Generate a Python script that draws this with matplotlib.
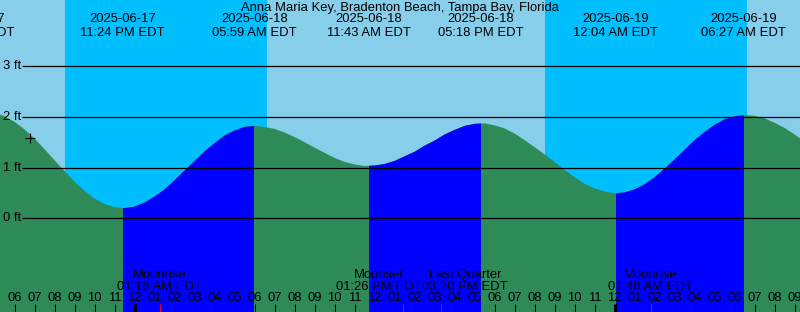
import numpy as np
import pandas as pd
import matplotlib
matplotlib.use('Agg')
import matplotlib.pyplot as plt
from matplotlib.patches import Rectangle
from matplotlib.transforms import blended_transform_factory

plt.rcParams['font.family'] = ['Liberation Sans', 'DejaVu Sans']

title = 'Anna Maria Key, Bradenton Beach, Tampa Bay, Florida'
ref_time = pd.Timestamp('2025-06-18 00:00')

# tide extremes
tide_times = ['2025-06-17 15:50', '2025-06-17 23:24', '2025-06-18 05:59', '2025-06-18 11:43',
              '2025-06-18 17:18', '2025-06-19 00:04', '2025-06-19 06:27']
tide_kinds = ['high', 'low', 'high', 'low', 'high', 'low', 'high']

# half-hourly water level (ft), starting 2025-06-17 17:00
curve_start = '2025-06-17 17:00'
curve_step_hours = 0.5
curve_heights = [2.08, 2.01, 1.90, 1.75, 1.57, 1.36, 1.14, 0.93, 0.72, 0.54, 0.39, 0.28,
                 0.22, 0.20, 0.23, 0.31, 0.43, 0.57, 0.75, 0.94, 1.13, 1.32, 1.48, 1.63,
                 1.73, 1.80, 1.82, 1.80, 1.76, 1.69, 1.60, 1.50, 1.39, 1.29, 1.19, 1.11,
                 1.06, 1.03, 1.04, 1.07, 1.13, 1.22, 1.31, 1.43, 1.53, 1.65, 1.74, 1.82,
                 1.86, 1.87, 1.83, 1.77, 1.67, 1.54, 1.40, 1.26, 1.11, 0.95, 0.81, 0.68,
                 0.59, 0.53, 0.49, 0.51, 0.57, 0.67, 0.81, 0.98, 1.16, 1.35, 1.54, 1.70,
                 1.84, 1.95, 2.01, 2.03, 2.02, 1.97, 1.88, 1.78, 1.65, 1.51, 1.37]

# night (sunset -> sunrise)
night_starts = ['2025-06-17 20:30', '2025-06-18 20:30']
night_ends = ['2025-06-18 06:36', '2025-06-19 06:36']

# moon events
moon_times = ['2025-06-18 01:16', '2025-06-18 13:26', '2025-06-18 15:20', '2025-06-19 01:48']
moon_names = ['Moonrise', 'Moonset', 'Last Quarter', 'Moonrise']

now_time = '2025-06-17 18:46'
now_height = 1.58

grid_levels = [0, 1, 2, 3]


def hrs(s):
    return (pd.Timestamp(s) - ref_time) / pd.Timedelta(hours=1)


W, H = 800, 312
px_per_hr = 20.0
x0_px = 134.6          # pixel of midnight 06-18
y0_px, px_per_ft = 218.3, 50.77


def fy(ypx):
    # pixel row -> axes fraction
    return 1 - ypx / H


fig = plt.figure(figsize=(W / 100, H / 100), dpi=100)
ax = fig.add_axes([0, 0, 1, 1])
xmin, xmax = -x0_px / px_per_hr, (W - x0_px) / px_per_hr
ymax, ymin = y0_px / px_per_ft, -(H - y0_px) / px_per_ft
ax.set_xlim(xmin, xmax)
ax.set_ylim(ymin, ymax)
ax.axis('off')
bt = blended_transform_factory(ax.transData, ax.transAxes)

# day / night sky
ax.axvspan(xmin, xmax, color='#87CEEB', lw=0)
for s, e in zip(night_starts, night_ends):
    ax.axvspan(hrs(s), hrs(e), color='#00BFFF', lw=0)

# water: ebb green, flood blue
t_curve = hrs(curve_start) + curve_step_hours * np.arange(len(curve_heights))
ax.fill_between(t_curve, curve_heights, ymin - 1, color='#2E8B57', lw=0)
tt = [hrs(s) for s in tide_times]
for i in range(len(tt) - 1):
    if tide_kinds[i] == 'low':
        p = ax.fill_between(t_curve, curve_heights, ymin - 1, color='#0000FF', lw=0)
        p.set_clip_path(Rectangle((tt[i], ymin - 1), tt[i + 1] - tt[i], ymax - ymin + 2,
                                  transform=ax.transData))

# level lines
x_line = (22 - x0_px) / px_per_hr
ax.hlines(grid_levels, x_line, xmax, colors='black', lw=0.9)
for lv in grid_levels:
    ax.text((3 - x0_px) / px_per_hr, lv, f'{lv} ft', ha='left', va='center', fontsize=9.4)

# now marker
ax.plot([hrs(now_time)], [now_height], marker='+', color='black', ms=7, mew=0.8)

fs = 9.4
ax.text(0.5, fy(10.7), title, transform=ax.transAxes, ha='center', va='baseline', fontsize=fs)
for s in tide_times:
    ts = pd.Timestamp(s)
    ax.text(hrs(s), fy(22.3), ts.strftime('%Y-%m-%d'), transform=bt, ha='center', va='baseline', fontsize=fs)
    ax.text(hrs(s), fy(35.7), ts.strftime('%I:%M %p') + ' EDT', transform=bt, ha='center',
            va='baseline', fontsize=fs)

# hour ticks
for h in range(int(np.ceil(xmin)), int(np.floor(xmax)) + 1):
    ts = ref_time + pd.Timedelta(hours=h)
    lw = 2.2 if ts.hour == 0 else 0.75
    ax.plot([h, h], [fy(304.3), 0], color='black', lw=lw, transform=bt, solid_capstyle='butt')
    ax.text(h, fy(300.7), ts.strftime('%I'), transform=bt, ha='center', va='baseline', fontsize=fs)

# moon events
nudge = {1: -24 / px_per_hr, 2: 24 / px_per_hr}
for i, (s, name) in enumerate(zip(moon_times, moon_names)):
    x = hrs(s)
    ax.plot([x, x], [fy(304.3), 0], color='red', lw=0.75, transform=bt, solid_capstyle='butt')
    xl = x + nudge.get(i, 0)
    ax.text(xl, fy(277.7), name, transform=bt, ha='center', va='baseline', fontsize=fs)
    ax.text(xl, fy(290.3), pd.Timestamp(s).strftime('%I:%M %p') + ' EDT', transform=bt,
            ha='center', va='baseline', fontsize=fs)

fig.savefig('out.png', dpi=100)
